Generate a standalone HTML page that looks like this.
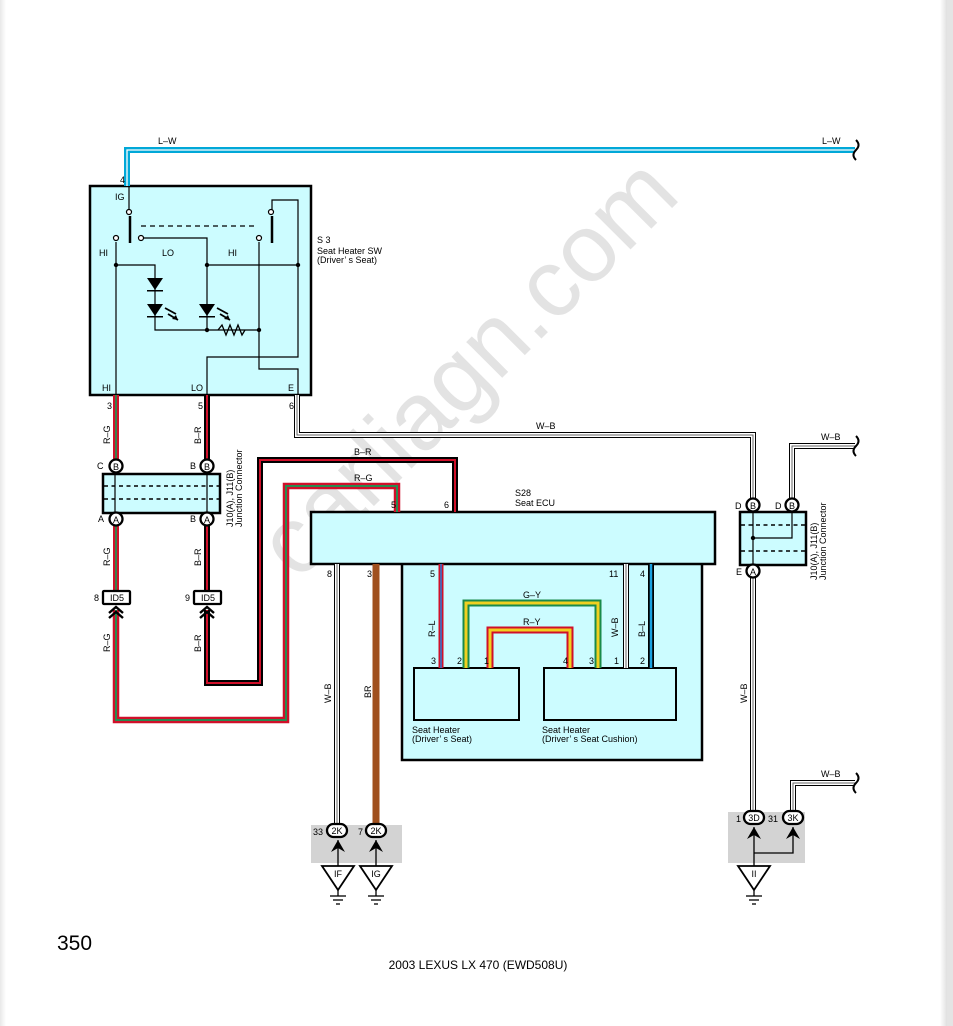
<!DOCTYPE html>
<html><head><meta charset="utf-8"><style>
html,body{margin:0;padding:0;background:#fff}
svg{display:block}
text{font-family:"Liberation Sans",sans-serif;font-size:9px;fill:#000}
</style></head><body>
<svg width="953" height="1026" viewBox="0 0 953 1026" xmlns="http://www.w3.org/2000/svg">
<defs>
<linearGradient id="lg" x1="0" x2="1"><stop offset="0" stop-color="#e8e8e8"/><stop offset="1" stop-color="#fff"/></linearGradient>
<linearGradient id="rg" x1="0" x2="1"><stop offset="0" stop-color="#fff"/><stop offset="1" stop-color="#dcdcdc"/></linearGradient>
</defs>
<rect x="0" y="0" width="6" height="1026" fill="url(#lg)"/>
<rect x="940" y="0" width="8" height="1026" fill="url(#rg)"/>
<rect x="947" y="0" width="6" height="1026" fill="#e4e4e4"/>

<text x="0" y="0" transform="translate(490,390) rotate(-45)" text-anchor="middle" style="font-size:96px;fill:#e3e3e3">carliagn.com</text>

<rect x="90" y="186" width="221" height="209" fill="#ccfcff" stroke="#000" stroke-width="2.5"/>
<rect x="402" y="560" width="300" height="200" fill="#ccfcff" stroke="#000" stroke-width="2.5"/>
<rect x="311" y="512" width="404" height="52" fill="#ccfcff" stroke="#000" stroke-width="2.5"/>
<rect x="414" y="668" width="105" height="52" fill="#ccfcff" stroke="#000" stroke-width="2"/>
<rect x="544" y="668" width="132" height="52" fill="#ccfcff" stroke="#000" stroke-width="2"/>
<rect x="311" y="825" width="91" height="38" fill="#d3d3d3"/>
<rect x="728" y="812" width="77" height="51" fill="#d3d3d3"/>

<g fill="none" stroke-linejoin="miter">
<polyline points="127,186 127,150 855,150" stroke="#00a8d8" stroke-width="6"/>
<polyline points="127,186 127,150 855,150" stroke="#fff" stroke-width="1.3"/>
<polyline points="297,395 297,435 753,435 753,500" stroke="#000" stroke-width="6"/>
<polyline points="297,395 297,435 753,435 753,500" stroke="#fff" stroke-width="4"/>
<polyline points="297,395 297,435 753,435 753,500" stroke="#666" stroke-width="1"/>
<polyline points="792,500 792,446 855,446" stroke="#000" stroke-width="6"/>
<polyline points="792,500 792,446 855,446" stroke="#fff" stroke-width="4"/>
<polyline points="792,500 792,446 855,446" stroke="#666" stroke-width="1"/>
<polyline points="753,577 753,813" stroke="#000" stroke-width="6"/>
<polyline points="753,577 753,813" stroke="#fff" stroke-width="4"/>
<polyline points="753,577 753,813" stroke="#666" stroke-width="1"/>
<polyline points="793,813 793,783 855,783" stroke="#000" stroke-width="6"/>
<polyline points="793,813 793,783 855,783" stroke="#fff" stroke-width="4"/>
<polyline points="793,813 793,783 855,783" stroke="#666" stroke-width="1"/>
<polyline points="337,564 337,825" stroke="#000" stroke-width="6"/>
<polyline points="337,564 337,825" stroke="#fff" stroke-width="4"/>
<polyline points="337,564 337,825" stroke="#666" stroke-width="1"/>
<polyline points="376,564 376,825" stroke="#a0501e" stroke-width="7"/>
<polyline points="116,395 116,460" stroke="#d0102a" stroke-width="6"/>
<polyline points="116,395 116,460" stroke="#2a8a50" stroke-width="1.8"/>
<polyline points="116,525 116,591" stroke="#d0102a" stroke-width="6"/>
<polyline points="116,525 116,591" stroke="#2a8a50" stroke-width="1.8"/>
<polyline points="116,610 116,720 286,720 286,486 397,486 397,512" stroke="#d0102a" stroke-width="6.5"/>
<polyline points="116,610 116,720 286,720 286,486 397,486 397,512" stroke="#2a8a50" stroke-width="2"/>
<polyline points="207,395 207,460" stroke="#000" stroke-width="6"/>
<polyline points="207,395 207,460" stroke="#d0102a" stroke-width="2"/>
<polyline points="207,525 207,591" stroke="#000" stroke-width="6"/>
<polyline points="207,525 207,591" stroke="#d0102a" stroke-width="2"/>
<polyline points="207,610 207,683 260,683 260,460 455,460 455,512" stroke="#000" stroke-width="6"/>
<polyline points="207,610 207,683 260,683 260,460 455,460 455,512" stroke="#d0102a" stroke-width="2"/>
<polyline points="441,564 441,668" stroke="#d0102a" stroke-width="5"/>
<polyline points="441,564 441,668" stroke="#2a7ad8" stroke-width="1.5"/>
<polyline points="466,668 466,603 598,603 598,668" stroke="#1a8a4a" stroke-width="7"/>
<polyline points="466,668 466,603 598,603 598,668" stroke="#f0d020" stroke-width="3"/>
<polyline points="490,668 490,630 570,630 570,668" stroke="#d0102a" stroke-width="7"/>
<polyline points="490,668 490,630 570,630 570,668" stroke="#f0d020" stroke-width="3"/>
<polyline points="626,564 626,668" stroke="#000" stroke-width="6"/>
<polyline points="626,564 626,668" stroke="#fff" stroke-width="4"/>
<polyline points="626,564 626,668" stroke="#666" stroke-width="1"/>
<polyline points="651,564 651,668" stroke="#000" stroke-width="6"/>
<polyline points="651,564 651,668" stroke="#1aa0e0" stroke-width="2.5"/>
<path d="M856,140 q5,5 0,10 q-5,5 0,10" stroke="#000" stroke-width="2"/>
<path d="M856,436 q5,5 0,10 q-5,5 0,10" stroke="#000" stroke-width="2"/>
<path d="M856,773 q5,5 0,10 q-5,5 0,10" stroke="#000" stroke-width="2"/>
</g>

<g fill="none" stroke="#000" stroke-width="1.2">
<line x1="129" y1="186" x2="129" y2="210"/>
<line x1="130" y1="216" x2="130" y2="243" stroke-width="2.5"/>
<line x1="272" y1="216" x2="272" y2="243" stroke-width="2.5"/>
<polyline points="272,210 272,200 298,200 298,357 207,357 207,395"/>
<line x1="141" y1="226" x2="256" y2="226" stroke-dasharray="5,4"/>
<polyline points="141,238 207,238 207,330"/>
<polyline points="116,242 116,395"/>
<polyline points="259,242 259,369 298,369 298,395"/>
<polyline points="116,265 155,265 155,330 259,330"/>
<line x1="207" y1="265" x2="298" y2="265"/>
<polyline points="218,330 222,325 226,335 230,325 234,335 238,325 242,335 245,330" stroke-width="1.3"/>
<circle cx="129" cy="212" r="2.5" fill="#fff"/>
<circle cx="271" cy="212" r="2.5" fill="#fff"/>
<circle cx="116" cy="238" r="2.5" fill="#fff"/>
<circle cx="141" cy="238" r="2.5" fill="#fff"/>
<circle cx="259" cy="238" r="2.5" fill="#fff"/>
<line x1="165" y1="308" x2="176" y2="314" stroke-width="1.8"/><line x1="168" y1="314" x2="178" y2="320" stroke-width="1.8"/>
<line x1="217" y1="308" x2="228" y2="314" stroke-width="1.8"/><line x1="220" y1="314" x2="230" y2="320" stroke-width="1.8"/>
</g>
<g fill="#000">
<polygon points="147,278 163,278 155,290"/><rect x="147" y="290" width="16" height="1.5"/>
<polygon points="147,304 163,304 155,316"/><rect x="147" y="316" width="16" height="1.5"/>
<polygon points="199,304 215,304 207,316"/><rect x="199" y="316" width="16" height="1.5"/>
<polygon points="178,320 172,319 176,315"/><polygon points="230,320 224,319 228,315"/>
<circle cx="116" cy="265" r="2.2"/><circle cx="207" cy="265" r="2.2"/><circle cx="298" cy="265" r="2.2"/>
<circle cx="207" cy="330" r="2.2"/><circle cx="259" cy="330" r="2.2"/>
</g>

<rect x="103" y="474" width="117" height="39" fill="#ccfcff" stroke="#000" stroke-width="2.5"/>
<g stroke="#000" stroke-width="1.2" fill="none">
<line x1="115" y1="474" x2="115" y2="513"/><line x1="207" y1="474" x2="207" y2="513"/>
<line x1="104" y1="486" x2="219" y2="486" stroke-dasharray="4,3.5" stroke-width="1.5"/>
<line x1="104" y1="499" x2="219" y2="499" stroke-dasharray="4,3.5" stroke-width="1.5"/>
</g>
<rect x="740" y="512" width="66" height="53" fill="#ccfcff" stroke="#000" stroke-width="2.5"/>
<g stroke="#000" stroke-width="1.2" fill="none">
<line x1="753" y1="512" x2="753" y2="565"/>
<polyline points="792,512 792,538 753,538"/>
<line x1="741" y1="525" x2="805" y2="525" stroke-dasharray="4,3.5" stroke-width="1.5"/>
<line x1="741" y1="551" x2="805" y2="551" stroke-dasharray="4,3.5" stroke-width="1.5"/>
</g>
<circle cx="753" cy="538" r="2.2"/>

<g stroke="#000" stroke-width="2.3" fill="#fff">
<circle cx="116" cy="466" r="6.5"/><circle cx="207" cy="466" r="6.5"/>
<circle cx="116" cy="519" r="6.5"/><circle cx="207" cy="519" r="6.5"/>
<circle cx="753" cy="505" r="6.5"/><circle cx="792" cy="505" r="6.5"/>
<circle cx="753" cy="571" r="6.5"/>
<rect x="103" y="591" width="27" height="13" rx="1"/>
<rect x="194" y="591" width="27" height="13" rx="1"/>
<rect x="327" y="824" width="20" height="13" rx="6.5"/>
<rect x="366" y="824" width="20" height="13" rx="6.5"/>
<rect x="744" y="811" width="20" height="13" rx="6.5"/>
<rect x="783" y="811" width="20" height="13" rx="6.5"/>
</g>
<g text-anchor="middle" style="font-size:10px">
<text x="116" y="470">B</text><text x="207" y="470">B</text>
<text x="116" y="523">A</text><text x="207" y="523">A</text>
<text x="753" y="509">B</text><text x="792" y="509">B</text><text x="753" y="575">A</text>
<text x="117" y="601">ID5</text><text x="208" y="601">ID5</text>
<text x="337" y="834">2K</text><text x="376" y="834">2K</text>
<text x="754" y="821">3D</text><text x="793" y="821">3K</text>
</g>
<g fill="none" stroke="#000" stroke-width="2.4">
<polyline points="109,613 116,607 123,613"/><polyline points="109,618 116,612 123,618"/>
<polyline points="200,613 207,607 214,613"/><polyline points="200,618 207,612 214,618"/>
</g>
<g stroke="#000" stroke-width="1.3" fill="none">
<line x1="338" y1="840" x2="338" y2="866"/><line x1="376" y1="840" x2="376" y2="866"/>
<line x1="754" y1="827" x2="754" y2="866"/><polyline points="754,853 793,853 793,827"/>
<polygon points="322,866 354,866 338,890" fill="#fff" stroke-width="1.8"/>
<polygon points="360,866 392,866 376,890" fill="#fff" stroke-width="1.8"/>
<polygon points="738,866 770,866 754,890" fill="#fff" stroke-width="1.8"/>
<line x1="338" y1="890" x2="338" y2="896"/><line x1="376" y1="890" x2="376" y2="896"/><line x1="754" y1="890" x2="754" y2="896"/>
<line x1="330" y1="896" x2="346" y2="896"/><line x1="333" y1="900" x2="343" y2="900"/><line x1="336" y1="904" x2="340" y2="904"/>
<line x1="368" y1="896" x2="384" y2="896"/><line x1="371" y1="900" x2="381" y2="900"/><line x1="374" y1="904" x2="378" y2="904"/>
<line x1="746" y1="896" x2="762" y2="896"/><line x1="749" y1="900" x2="759" y2="900"/><line x1="752" y1="904" x2="756" y2="904"/>
</g>
<g fill="#000">
<path d="M331,852 L338,840 L345,852 L338,848 Z"/>
<path d="M369,852 L376,840 L383,852 L376,848 Z"/>
<path d="M747,839 L754,827 L761,839 L754,835 Z"/>
<path d="M786,839 L793,827 L800,839 L793,835 Z"/>
</g>
<g text-anchor="middle">
<text x="338" y="877">IF</text><text x="376" y="877">IG</text><text x="754" y="877">II</text>
</g>

<text x="158" y="144">L–W</text>
<text x="822" y="144">L–W</text>
<text x="120" y="183">4</text>
<text x="115" y="200">IG</text>
<text x="99" y="256">HI</text><text x="162" y="256">LO</text><text x="228" y="256">HI</text>
<text x="102" y="391">HI</text><text x="191" y="391">LO</text><text x="288" y="391">E</text>
<text x="317" y="243">S 3</text>
<text x="317" y="254">Seat Heater SW</text>
<text x="317" y="263">(Driver’ s Seat)</text>
<text x="107" y="409">3</text><text x="198" y="409">5</text><text x="289" y="409">6</text>
<text x="536" y="429">W–B</text>
<text x="354" y="455">B–R</text>
<text x="354" y="481">R–G</text>
<text x="391" y="508">5</text><text x="444" y="508">6</text>
<text x="515" y="496">S28</text><text x="515" y="506">Seat ECU</text>
<text x="97" y="469">C</text><text x="190" y="469">B</text>
<text x="98" y="522">A</text><text x="190" y="522">B</text>
<text x="94" y="601">8</text><text x="185" y="601">9</text>
<text x="735" y="509">D</text><text x="775" y="509">D</text><text x="736" y="575">E</text>
<text x="821" y="440">W–B</text><text x="821" y="777">W–B</text>
<text x="327" y="577">8</text><text x="367" y="577">3</text><text x="430" y="577">5</text>
<text x="609" y="577">11</text><text x="640" y="577">4</text>
<text x="523" y="598">G–Y</text><text x="523" y="625">R–Y</text>
<text x="431" y="664">3</text><text x="457" y="664">2</text><text x="484" y="664">1</text>
<text x="563" y="664">4</text><text x="589" y="664">3</text><text x="614" y="664">1</text><text x="640" y="664">2</text>
<text x="412" y="733">Seat Heater</text><text x="412" y="742">(Driver’ s Seat)</text>
<text x="542" y="733">Seat Heater</text><text x="542" y="742">(Driver’ s Seat Cushion)</text>
<text x="313" y="835">33</text><text x="358" y="835">7</text>
<text x="736" y="822">1</text><text x="768" y="822">31</text>
<g style="font-size:9px">
<text transform="translate(110,444) rotate(-90)">R–G</text>
<text transform="translate(201,444) rotate(-90)">B–R</text>
<text transform="translate(110,566) rotate(-90)">R–G</text>
<text transform="translate(201,566) rotate(-90)">B–R</text>
<text transform="translate(110,652) rotate(-90)">R–G</text>
<text transform="translate(201,652) rotate(-90)">B–R</text>
<text transform="translate(233,527) rotate(-90)">J10(A), J11(B)</text>
<text transform="translate(242,527) rotate(-90)">Junction Connector</text>
<text transform="translate(817,580) rotate(-90)">J10(A), J11(B)</text>
<text transform="translate(826,580) rotate(-90)">Junction Connector</text>
<text transform="translate(331,703) rotate(-90)">W–B</text>
<text transform="translate(371,698) rotate(-90)">BR</text>
<text transform="translate(435,637) rotate(-90)">R–L</text>
<text transform="translate(618,637) rotate(-90)">W–B</text>
<text transform="translate(645,637) rotate(-90)">B–L</text>
<text transform="translate(747,703) rotate(-90)">W–B</text>
</g>
<text x="57" y="950" style="font-size:21px">350</text>
<text x="478" y="969" text-anchor="middle" style="font-size:12px">2003 LEXUS LX 470 (EWD508U)</text>
</svg>
</body></html>
